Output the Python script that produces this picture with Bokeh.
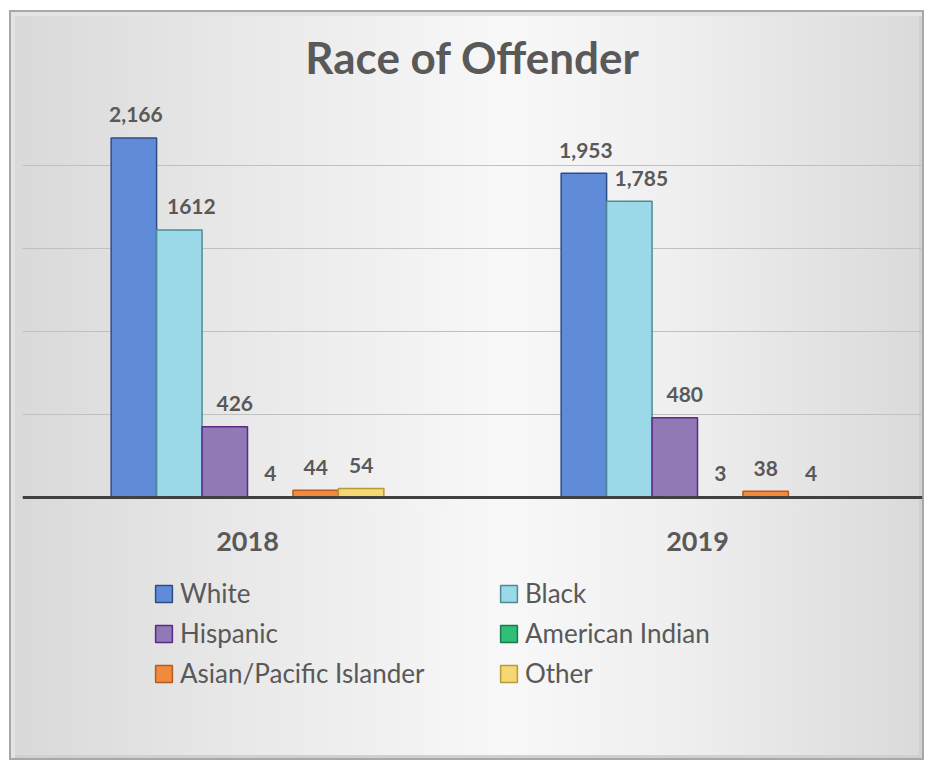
from bokeh.plotting import figure
from bokeh.models import ColumnDataSource, FactorRange, FixedTicker, Legend, LegendItem, Span, Range1d
from bokeh.transform import dodge
from bokeh.core.properties import value
from bokeh.embed import file_html
from bokeh.resources import INLINE

# ---- data ----
years = ["2018", "2019"]
races = ["White", "Black", "Hispanic", "American Indian", "Asian/Pacific Islander", "Other"]
white = [2166, 1953]
black = [1612, 1785]
hispanic = [426, 480]
american_indian = [4, 3]
asian_pacific = [44, 38]
other = [54, 4]
label_text = {
    "White": ["2,166", "1,953"],
    "Black": ["1612", "1,785"],
    "Hispanic": ["426", "480"],
    "American Indian": ["4", "3"],
    "Asian/Pacific Islander": ["44", "38"],
    "Other": ["54", "4"],
}
series = [white, black, hispanic, american_indian, asian_pacific, other]
grid_ticks = [500, 1000, 1500, 2000, 2500]

# ---- style ----
fills = ["#5f8bd9", "#9bd9e8", "#9179b6", "#2fbf77", "#f08a3c", "#f5d873"]
lines = ["#2e4d85", "#4e8a96", "#5a2a8a", "#1c7a4a", "#b85a1f", "#b89a3a"]
label_dx = [2, 12, 10, 0, 0, 0]
bar_w = 0.101
FONT = "Lato"
TXT = "#595959"

# the plotting frame also holds the legend area below the baseline (y=0)
p = figure(x_range=FactorRange(factors=years), y_range=Range1d(-1494, 2500),
           width=924, height=760, output_backend="svg", toolbar_location=None,
           min_border_left=22, min_border_right=2, min_border_top=82, min_border_bottom=15)

p.title.text = "Race of Offender"
p.title.align = "center"
p.title.text_font = FONT
p.title.text_font_size = "44px"
p.title.text_font_style = "bold"
p.title.text_color = TXT
p.title.standoff = 0
p.title.offset = 30

p.background_fill_color = None
p.border_fill_color = None
p.outline_line_color = None
p.styles = {
    "background": "linear-gradient(to right, #d8d8d8 0%, #e8e8e8 25%, #f8f8f8 55%, #eeeeee 75%, #dadada 100%)",
    "box-shadow": ("inset 9px 10px 0 0 #ffffff, inset 11px 12px 0 0 #a8a8a8, "
                   "inset -2px -2px 0 0 #a8a8a8, inset 15px 16px 0 0 #e4e4e4, "
                   "inset -5px -5px 0 0 #d0d0d0"),
}

p.axis.visible = False
p.ygrid.ticker = FixedTicker(ticks=grid_ticks)
p.ygrid.grid_line_color = "#c0c0c0"
p.ygrid.grid_line_width = 1
p.xgrid.grid_line_color = None

items = []
for i, (race, vals) in enumerate(zip(races, series)):
    src = ColumnDataSource(dict(year=years, v=vals, lab=label_text[race]))
    off = (i - 2.5) * bar_w
    r = p.vbar(x=dodge("year", off, range=p.x_range), top="v", width=bar_w, source=src,
               fill_color=fills[i], line_color=lines[i], line_width=1.5)
    p.text(x=dodge("year", off, range=p.x_range), y="v", text="lab", source=src,
           text_font=value(FONT), text_font_size="21px", text_font_style="bold",
           text_color=TXT, text_align="center", text_baseline="alphabetic",
           y_offset=-23, x_offset=label_dx[i])
    items.append(LegendItem(label=race, renderers=[r]))

# baseline (category axis line)
p.add_layout(Span(location=0, dimension="width", line_color="#404040", line_width=3))

# category labels under the baseline
p.text(x=years, y=[0] * len(years), text=years,
       text_font=value(FONT), text_font_size="27px", text_font_style="bold",
       text_color=TXT, text_align="center", text_baseline="middle", y_offset=44)

legend = Legend(items=items, orientation="horizontal", ncols=2,
                location=(131, 52), padding=0, margin=0, spacing=0,
                glyph_width=21, glyph_height=21, label_standoff=6,
                label_width=318, label_height=40,
                label_text_font=FONT, label_text_font_size="26px",
                label_text_color=TXT, background_fill_alpha=0, border_line_color=None)
p.add_layout(legend, "center")

open("out.html", "w").write(file_html(p, INLINE))
